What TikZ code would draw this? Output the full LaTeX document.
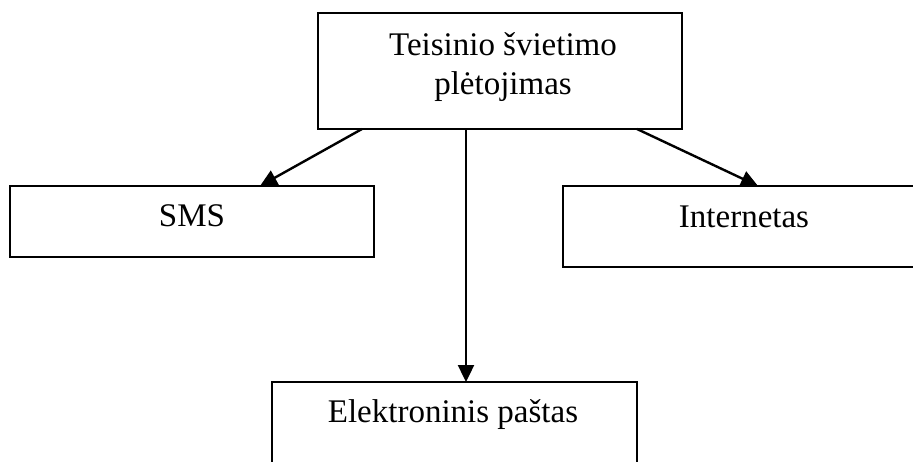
\documentclass[tikz,border=0pt]{standalone}
\usepackage{fontspec}
\setmainfont{Liberation Serif}
\usetikzlibrary{arrows.meta}
\begin{document}
\begin{tikzpicture}[x=1pt,y=-1pt,
  boxnode/.style={draw=black,line width=2.4pt,rectangle,inner sep=0pt,outer sep=0pt},
  txt/.style={anchor=base,inner sep=0pt,font=\fontsize{33}{39}\selectfont},
  arr/.style={line width=2.4pt,-{Triangle[length=17pt,width=16pt]}}]
\useasboundingbox (0,0) rectangle (913,461);
\clip (0,0) rectangle (913,461);
\fill[white] (0,0) rectangle (913,461);
% boxes
\node[boxnode,minimum width=364pt,minimum height=116pt] (top) at (500,71) {};
\node[boxnode,minimum width=364pt,minimum height=71pt] (sms) at (192,221.5) {};
\node[boxnode,minimum width=362pt,minimum height=81pt] (inet) at (744,226.5) {};
\node[boxnode,minimum width=365pt,minimum height=90pt] (mail) at (454.5,427) {};
% texts
\node[txt] (t1) at (503,55) {Teisinio švietimo};
\node[txt] (t2) at (503,94) {plėtojimas};
\node[txt] (tsms) at (192,226) {SMS};
\node[txt] (tinet) at (744,227) {Internetas};
\node[txt] (tmail) at (453,422) {Elektroninis paštas};
% connector endpoints
\coordinate (a1) at (362,129);
\coordinate (b1) at (260,186);
\coordinate (a2) at (466,129);
\coordinate (b2) at (466,382);
\coordinate (a3) at (637,129);
\coordinate (b3) at (758,186);
\draw[arr] (a1) -- (b1);
\draw[arr] (a2) -- (b2);
\draw[arr] (a3) -- (b3);
\end{tikzpicture}
\end{document}
